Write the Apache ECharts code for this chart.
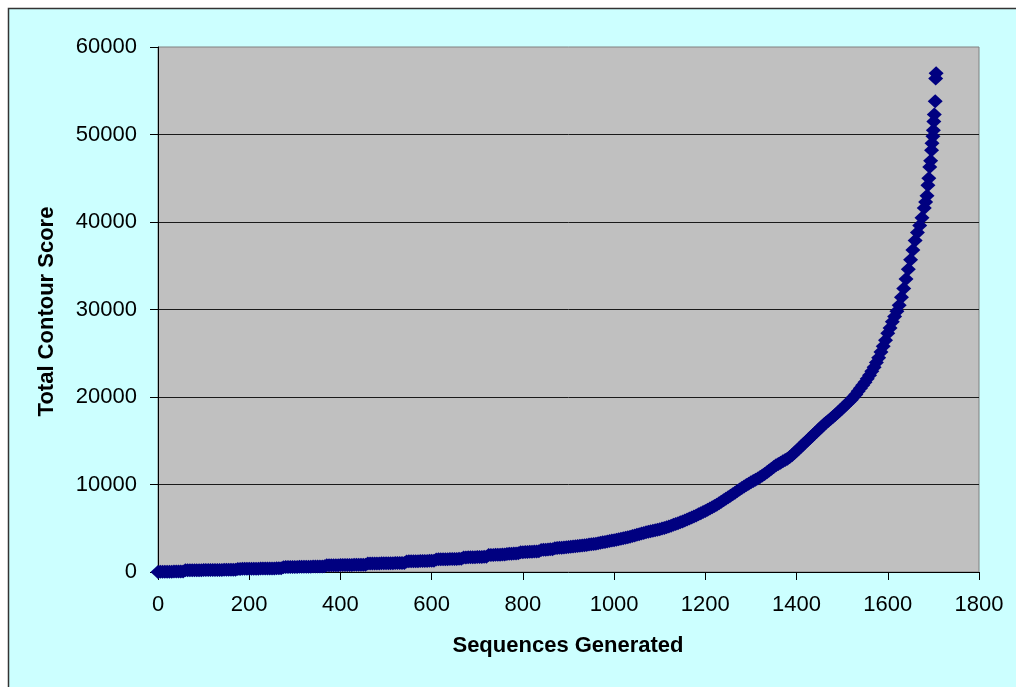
<!DOCTYPE html>
<html>
<head>
<meta charset="utf-8">
<title>Total Contour Score</title>
<script src="https://cdn.jsdelivr.net/npm/echarts@6/dist/echarts.min.js"></script>
<style>
  html, body { margin: 0; padding: 0; background: #ffffff; }
  #chart { width: 1016px; height: 687px; }
</style>
</head>
<body>
<div id="chart"></div>
<script>
// [sequences generated, total contour score] — slow early growth
const earlyRun = [
  [0,0],[5,20],[10,30],[15,30],[20,40],[25,40],[30,40],[35,50],[40,50],[45,50],[50,60],[55,60],
  [60,190],[65,190],[70,200],[75,200],[80,200],[85,210],[90,210],[95,210],[100,220],[105,220],
  [110,220],[115,230],[120,230],[125,230],[130,240],[135,240],[140,240],[145,250],[150,250],
  [155,250],[160,260],[165,260],[170,270],
  [175,350],[180,350],[185,360],[190,360],[195,360],[200,370],[205,370],[210,370],[215,380],
  [220,380],[225,390],[230,390],[235,400],[240,400],[245,400],[250,410],[255,410],[260,420],
  [265,420],[270,430],
  [275,550],[280,560],[285,560],[290,570],[295,570],[300,580],[305,580],[310,590],[315,590],
  [320,600],[325,600],[330,610],[335,610],[340,620],[345,620],[350,630],[355,630],[360,640],[365,650],
  [370,760],[375,760],[380,770],[385,770],[390,780],[395,780],[400,790],[405,790],[410,800],
  [415,800],[420,810],[425,810],[430,820],[435,820],[440,830],[445,830],[450,840],[455,840],
  [460,960],[465,960],[470,970],[475,970],[480,980],[485,980],[490,990],[495,990],[500,1000],
  [505,1000],[510,1010],[515,1010],[520,1020],[525,1020],[530,1030],[535,1030],[540,1040]
];

// middle stretch, where the score starts to climb
const middleRun = [
  [545,1210],[550,1220],[555,1220],[560,1230],[565,1240],[570,1240],[575,1250],[580,1260],
  [585,1260],[590,1270],[595,1280],[600,1280],[605,1290],
  [610,1440],[615,1450],[620,1450],[625,1460],[630,1470],[635,1470],[640,1480],[645,1490],
  [650,1500],[655,1500],[660,1510],[665,1520],
  [670,1660],[675,1670],[680,1680],[685,1680],[690,1690],[695,1700],[700,1710],[705,1720],
  [710,1720],[715,1730],[720,1740],
  [725,1930],[730,1940],[735,1950],[740,1960],[745,1970],[750,1980],[755,1990],[760,2010],
  [765,2070],[770,2080],[775,2090],[780,2110],[785,2120],[790,2130],
  [795,2260],[800,2270],[805,2290],[810,2300],[815,2310],[820,2320],[825,2340],[830,2350],[835,2360],
  [840,2510],[845,2530],[850,2550],[855,2570],[860,2590],[865,2610],
  [870,2720],[875,2740],[880,2760],[885,2780],[890,2800],[895,2830],[900,2860],
  [905,2890],[910,2920],[915,2950],[920,2980],[925,3010],[930,3040],[935,3070],[940,3100],
  [945,3130],[950,3160],[955,3200],[960,3240],[965,3290],[970,3340],[975,3390],[980,3440],
  [985,3490],[990,3540],[995,3590],[1000,3640],
  [1005,3690],[1010,3740],[1015,3800],[1020,3860],[1025,3920],[1030,3980],[1035,4040],[1040,4110],
  [1045,4180],[1050,4250],[1055,4320],[1060,4390],[1065,4460],[1070,4530],[1075,4600],[1080,4660],
  [1085,4720],[1090,4780],[1095,4830]
];

// rising part of the curve
const risingRun = [
  [1100,4880],[1105,4960],[1110,5040],[1115,5120],[1120,5210],[1125,5300],[1130,5390],[1135,5480],
  [1140,5580],[1145,5680],[1150,5780],[1155,5890],[1160,6000],[1165,6110],[1170,6230],[1175,6350],
  [1180,6470],[1185,6590],[1190,6720],[1195,6850],[1200,6980],[1205,7110],[1210,7250],[1215,7390],
  [1220,7530],[1225,7690],[1230,7850],[1235,8020],[1240,8200],[1245,8370],[1250,8550],[1255,8720],
  [1260,8900],[1265,9070],[1270,9250],[1275,9420],[1280,9600],[1285,9770],[1290,9950],[1295,10100],
  [1300,10250],[1305,10400],[1310,10550],[1315,10700],[1320,10850],[1325,11020],[1330,11200],
  [1335,11400],[1340,11600],[1345,11800],[1350,12000],[1355,12200],[1360,12350],[1365,12500],
  [1370,12650],[1375,12800],[1380,12950],[1385,13150],[1390,13350],[1395,13600],[1400,13850],
  [1405,14100],[1410,14350],[1415,14600],[1420,14850],[1425,15100],[1430,15350],[1435,15600],
  [1440,15850],[1445,16100],[1450,16350],[1455,16600],[1460,16850],[1465,17080],[1470,17300],
  [1475,17520],[1480,17750],[1485,17980],[1490,18200],[1495,18450],[1500,18700],[1505,18950],
  [1510,19200],[1515,19450],[1520,19700],[1525,20000],[1530,20300],[1535,20650],[1540,21000],
  [1545,21350],[1550,21700],[1555,22100],[1560,22500],[1565,22950],[1570,23400],[1575,23950],
  [1580,24500],[1585,25150],[1590,25800]
];

// steep tail with the highest scores
const steepTail = [
  [1595,26500],[1600,27300],[1605,27900],[1610,28600],[1615,29200],[1620,29800],[1625,30500],
  [1630,31400],[1635,32400],[1640,33500],[1645,34600],[1650,35700],[1655,36800],[1660,37900],
  [1665,38800],[1670,39600],[1675,40500],[1680,41600],[1683,42300],[1686,43000],[1688,44200],
  [1690,45000],[1692,46300],[1694,47000],[1696,48200],[1697,49000],[1699,49800],[1700,50500],
  [1701,51500],[1702,52300],[1704,53800],[1705,56400],[1706,57000]
];

const xTicks = { min: 0, max: 1800, interval: 200 };
const yTicks = { min: 0, max: 60000, interval: 10000 };

const points = earlyRun.concat(middleRun, risingRun, steepTail);

const FONT = "'Liberation Sans', Arial, sans-serif";
const chart = echarts.init(document.getElementById('chart'), null, { renderer: 'canvas' });

chart.setOption({
  animation: false,
  backgroundColor: '#ffffff',
  grid: {
    left: 158, top: 47, width: 821, height: 525,
    show: true,
    backgroundColor: '#C0C0C0',
    borderColor: '#808080',
    borderWidth: 1
  },
  xAxis: {
    type: 'value',
    min: xTicks.min, max: xTicks.max, interval: xTicks.interval,
    axisLine: { show: true, onZero: false, lineStyle: { color: '#000', width: 1 } },
    axisTick: { show: true, inside: false, length: 8, lineStyle: { color: '#000' } },
    axisLabel: { fontSize: 22, color: '#000', margin: 22, fontFamily: FONT,
                 formatter: v => String(v) },
    splitLine: { show: false }
  },
  yAxis: {
    type: 'value',
    min: yTicks.min, max: yTicks.max, interval: yTicks.interval,
    axisLine: { show: true, onZero: false, lineStyle: { color: '#000', width: 1 } },
    axisTick: { show: true, inside: false, length: 8, lineStyle: { color: '#000' } },
    axisLabel: { fontSize: 22, color: '#000', margin: 21, fontFamily: FONT,
                 formatter: v => String(v) },
    splitLine: {
      show: true, showMinLine: false, showMaxLine: false,
      lineStyle: { color: '#1a1a1a', width: 1 }
    }
  },
  graphic: [
    {
      type: 'rect', z: -100, silent: true,
      shape: { x: 8.5, y: 8.5, width: 1100, height: 800 },
      style: { fill: '#CCFFFF', stroke: '#333333', lineWidth: 1.5 }
    },
    {
      type: 'text', silent: true,
      x: 568, y: 646,
      style: {
        text: 'Sequences Generated', fill: '#000',
        font: "bold 22px 'Liberation Sans', Arial, sans-serif",
        align: 'center', verticalAlign: 'middle'
      }
    },
    {
      type: 'text', silent: true,
      x: 46.5, y: 311.5, rotation: Math.PI / 2,
      style: {
        text: 'Total Contour Score', fill: '#000',
        font: "bold 22px 'Liberation Sans', Arial, sans-serif",
        align: 'center', verticalAlign: 'middle'
      }
    }
  ],
  series: [{
    type: 'scatter',
    data: points,
    symbol: 'diamond',
    symbolSize: [15, 14],
    itemStyle: { color: '#000080', opacity: 1 },
    silent: true,
    large: false
  }]
});
</script>
</body>
</html>
